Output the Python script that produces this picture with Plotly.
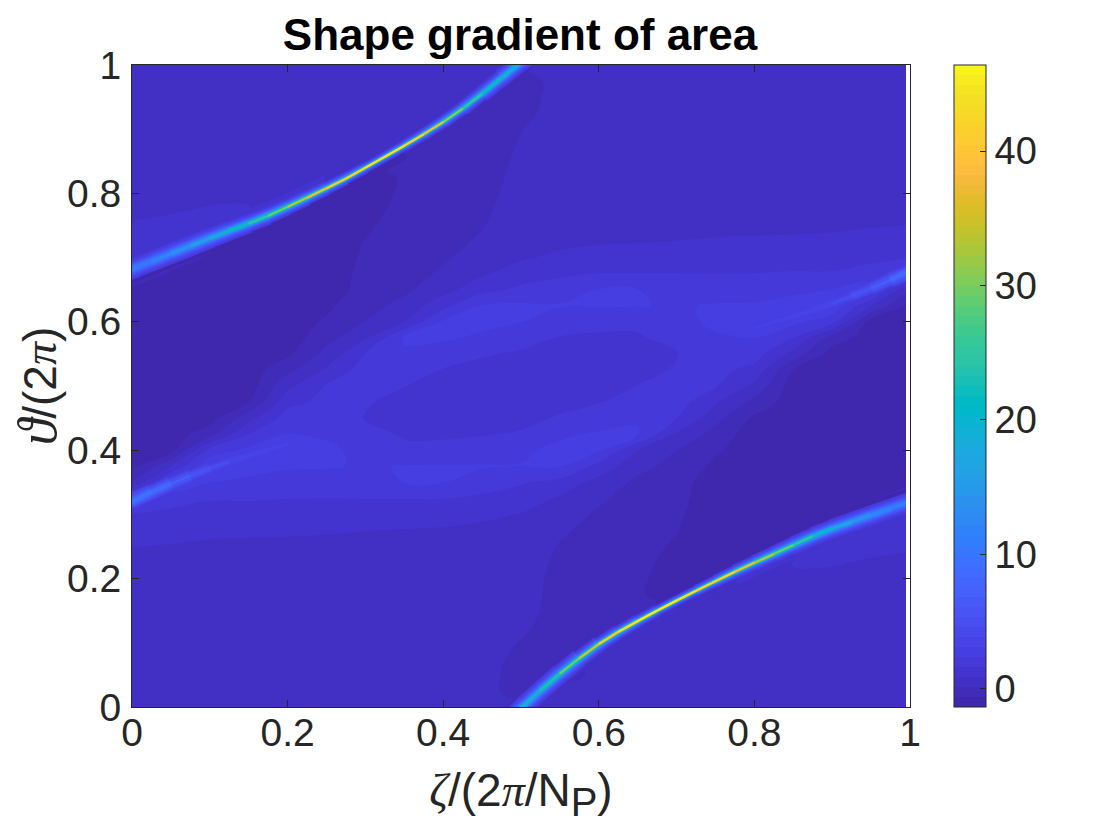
"""Shape gradient of area over one field period: filled contours plus the thin ridges."""
import numpy as np
import plotly.graph_objects as go
from plotly.colors import sample_colorscale

# --- Values ---
zeta = [0, .05, .1, .15, .2, .25, .3, .35, .4, .45, .5, .55, .6, .65, .7, .75, .8, .85, .9, .95, 1]
theta = [i / 40 for i in range(41)]

# background field, one list per zeta column, theta going up
z_0 = [.5,.5,.5,.5,.5,.5,.5,.5,.55,.7,.89,1.2,1.6,3.0,.1,-.9,-1,-1,-1,-1,-1,-1,-1,-1,-1,-1,-1,1.4,1.7,1.3,.95,.75,.6,.5,.5,.5,.5,.5,.5,.5,.5]
z_05 = [.5,.5,.5,.5,.5,.5,.5,.5,.5,.65,.85,1.1,1.4,2.0,2.8,.9,-.9,-1,-1,-1,-1,-1,-1,-1,-1,-1,-1,-1,.9,1.5,1.1,.8,.65,.5,.5,.5,.5,.5,.5,.5,.5]
z_10 = [.5,.5,.5,.5,.5,.5,.5,.5,.5,.6,.8,1.0,1.3,1.7,2.4,3.0,1.9,-.2,-.95,-1,-1,-1,-1,-1,-1,-1,-1,-1,-1,-.4,1.3,.95,.7,.55,.5,.5,.5,.5,.5,.5,.5]
z_15 = [.5,.5,.5,.5,.5,.5,.5,.5,.5,.6,.75,1.0,1.3,1.7,2.2,2.7,2.6,1.65,.6,-.6,-1,-1,-1,-1,-1,-1,-1,-1,-1,-1,.2,.95,.7,.55,.5,.5,.5,.5,.5,.5,.5]
z_20 = [.5,.5,.5,.5,.5,.5,.5,.5,.5,.55,.7,1.0,1.3,1.65,2.0,2.5,2.6,2.4,2.0,1.4,.7,-.1,-.75,-1,-1,-1,-1,-1,-1,-1,-1,-.2,.85,.6,.5,.5,.5,.5,.5,.5,.5]
z_25 = [.5,.5,.5,.5,.5,.5,.5,.5,.5,.55,.7,.95,1.3,1.63,2.0,2.45,2.5,2.3,2.0,1.85,1.7,1.0,.4,-.15,-.5,-.75,-1,-1,-1,-1,-1,-1,-.6,.5,.55,.5,.5,.5,.5,.5,.5]
z_30 = [.5,.5,.5,.5,.5,.5,.5,.5,.5,.5,.65,.9,1.3,1.65,2.0,2.3,2.2,1.9,1.6,1.7,1.9,2.0,1.65,.8,.15,-.1,-.3,-.4,-.5,-.58,-.7,-.85,-1,-1,.45,.5,.5,.5,.5,.5,.5]
z_35 = [.5,.5,.5,.5,.5,.5,.5,.5,.5,.5,.6,.85,1.3,1.65,2.4,2.42,1.8,1.55,1.4,1.45,1.65,1.9,2.3,2.45,.9,.35,0,-.15,-.25,-.3,-.35,-.4,-.45,-.5,-.6,.5,.5,.5,.5,.5,.5]
z_40 = [.5,.5,.5,.5,.5,.5,.5,.5,.5,.5,.55,.8,1.2,1.65,2.4,2.45,1.8,1.55,1.35,1.3,1.4,1.6,2.1,2.45,2.5,1.4,.6,.25,.05,-.1,-.2,-.25,-.3,-.35,-.4,-.45,-.5,.6,.5,.5,.5]
z_45 = [.5,.5,.5,.5,.5,.5,.5,.5,.5,.5,.5,.7,1.05,1.5,2.0,2.45,1.9,1.6,1.35,1.25,1.3,1.45,1.7,2.3,2.5,2.4,1.4,.8,.45,.25,.1,0,-.1,-.15,-.2,-.25,-.3,-.35,-.5,.6,.5]
z_50 = [.5,-.3,-.25,-.1,.1,.3,.45,.5,.5,.5,.5,.6,.85,1.3,1.7,2.4,2.3,1.7,1.45,1.35,1.3,1.35,1.55,1.9,2.4,2.5,1.8,1.25,.8,.65,.55,.5,.45,.35,.28,.2,.12,-.1,-.25,-.3,.5]
z_55 = [.5,.6,-.5,-.35,-.3,-.25,-.2,-.15,-.1,0,.1,.25,.45,.8,1.4,2.4,2.5,2.3,1.7,1.45,1.3,1.25,1.35,1.6,1.9,2.45,2.0,1.5,1.05,.7,.5,.5,.5,.5,.5,.5,.5,.5,.5,.5,.5]
z_60 = [.5,.5,.5,.6,-.5,-.45,-.4,-.35,-.3,-.25,-.2,-.1,.05,.25,.6,1.4,2.5,2.45,2.1,1.6,1.4,1.3,1.35,1.55,1.8,2.45,2.4,1.65,1.2,.8,.55,.5,.5,.5,.5,.5,.5,.5,.5,.5,.5]
z_65 = [.5,.5,.5,.5,.5,.5,-.6,-.5,-.45,-.4,-.35,-.3,-.25,-.15,0,.35,.9,2.45,2.3,1.9,1.65,1.45,1.4,1.55,1.8,2.42,2.4,1.65,1.3,.85,.6,.5,.5,.5,.5,.5,.5,.5,.5,.5,.5]
z_70 = [.5,.5,.5,.5,.5,.5,.45,-1,-1,-.85,-.7,-.58,-.5,-.4,-.3,-.1,.15,.8,1.65,2.0,1.9,1.7,1.6,1.9,2.2,2.3,2.0,1.65,1.3,.9,.65,.5,.5,.5,.5,.5,.5,.5,.5,.5,.5]
z_75 = [.5,.5,.5,.5,.5,.5,.55,.5,-.6,-1,-1,-1,-1,-1,-1,-.75,-.5,-.15,.4,1.0,1.7,1.85,2.0,2.3,2.5,2.45,2.0,1.63,1.3,.95,.7,.55,.5,.5,.5,.5,.5,.5,.5,.5,.5]
z_80 = [.5,.5,.5,.5,.5,.5,.5,.6,.85,-.2,-1,-1,-1,-1,-1,-1,-1,-1,-.75,-.1,.7,1.4,2.0,2.4,2.6,2.5,2.0,1.65,1.3,1.0,.7,.55,.5,.5,.5,.5,.5,.5,.5,.5,.5]
z_85 = [.5,.5,.5,.5,.5,.5,.5,.55,.7,.95,.2,-1,-1,-1,-1,-1,-1,-1,-1,-1,-1,-.6,.6,1.65,2.6,2.7,2.2,1.7,1.3,1.0,.75,.6,.5,.5,.5,.5,.5,.5,.5,.5,.5]
z_90 = [.5,.5,.5,.5,.5,.5,.5,.55,.7,.95,1.3,-.4,-1,-1,-1,-1,-1,-1,-1,-1,-1,-1,-.95,-.2,1.9,3.0,2.4,1.7,1.3,1.0,.8,.6,.5,.5,.5,.5,.5,.5,.5,.5,.5]
z_95 = [.5,.5,.5,.5,.5,.5,.5,.5,.65,.8,1.1,1.5,.9,-1,-1,-1,-1,-1,-1,-1,-1,-1,-1,-1,-.9,.9,2.8,2.0,1.4,1.1,.85,.65,.5,.5,.5,.5,.5,.5,.5,.5,.5]
z_100 = [.5,.5,.5,.5,.5,.5,.5,.5,.6,.75,.95,1.3,1.7,1.4,-1,-1,-1,-1,-1,-1,-1,-1,-1,-1,-1,-.9,.1,3.0,1.6,1.2,.89,.7,.55,.5,.5,.5,.5,.5,.5,.5,.5]

# upper ridge: centre line, peak value, half width (in theta), field just above and below it
upper_zeta = [-.025,0,.025,.05,.075,.1,.125,.15,.175,.2,.225,.25,.275,.3,.325,.35,.375,.4,.425,.45,.475,.5,.525]
upper_theta = [.670,.682,.694,.706,.718,.730,.742,.753,.765,.779,.793,.808,.823,.840,.857,.874,.892,.911,.932,.955,.980,1.004,1.03]
upper_peak = [10.5,11,12.5,14,16,18,21,25,29,33,37,40,43,45,44,42,36,30,26,22,20,18,15]
upper_width = [.0085,.0082,.0078,.0074,.0068,.0060,.0053,.0044,.0038,.0034,.0028,.0025,.0021,.0019,.0020,.0022,.0026,.0030,.0036,.0044,.0052,.0060,.0065]
upper_above = [1.4,1.4,1.4,1.4,1.3,1.3,1.2,1.2,1.1,1.1,.95,.5,.5,.5,.5,.5,.5,.5,.5,.5,.5,.5,.5]
upper_below = [-1,-1,-1,-1,-1,-1,-1,-1,-1,-1,-1,-1,-1,-1,-1,-.3,-.3,-.3,-.3,-.3,-.3,-.3,-.3]

# lower ridge, same columns
lower_zeta = [.475,.5,.525,.55,.575,.6,.625,.65,.675,.7,.725,.75,.775,.8,.825,.85,.875,.9,.925,.95,.975,1,1.025]
lower_theta = [-.03,-.002,.026,.052,.076,.098,.117,.134,.150,.166,.181,.196,.211,.225,.238,.252,.266,.278,.288,.299,.309,.32,.33]
lower_peak = [15,18,22,28,33,40,44,46,46,45,43,42,38,33,29,24,20,17,14.5,13,11.5,10.5,10]
lower_width = [.0065,.0060,.0055,.0044,.0034,.0028,.0025,.0021,.0019,.0019,.0021,.0025,.0028,.0034,.0038,.0046,.0053,.0060,.0068,.0074,.0078,.0082,.0085]
lower_above = [-.3,-.3,-.3,-.3,-.3,-.3,-.3,-.3,-1,-1,-1,-1,-1,-1,-1,-1,-1,-1,-1,-1,-1,-1,-1]
lower_below = [.5,.5,.5,.5,.5,.5,.5,.5,.5,.5,.5,.5,.95,1.1,1.1,1.2,1.2,1.3,1.3,1.4,1.4,1.4,1.4]

# faint continuations of the ridges past the period boundary
left_zeta = [-.025,0,.025,.05,.075,.1,.125,.15,.175,.2]
left_theta = [.31,.32,.335,.348,.36,.372,.382,.392,.4,.41]
left_peak = [11,10.5,8,6.5,5.2,4.5,4.1,3.8,3.6,3.5]
left_width = [.0085,.0085,.0095,.010,.010,.010,.011,.011,.011,.011]

right_zeta = [.8,.825,.85,.875,.9,.925,.95,.975,1,1.025]
right_theta = [.59,.6,.608,.618,.628,.64,.652,.665,.68,.69]
right_peak = [3.5,3.6,3.8,4.1,4.5,5.2,6.5,8,10.5,11]
right_width = [.011,.011,.011,.011,.010,.010,.010,.0095,.0085,.0085]

ridge_levels = [1.5,2.5,3.5,4.5,5.5,7,8.5,10,12,14,16,18,20,22,24,26,28,30,32,34,36,38,40,42,44,45.5]

x_ticks = [0, .2, .4, .6, .8, 1]
x_ticktext = ["0", "0.2", "0.4", "0.6", "0.8", "1"]
cbar_ticks = [0, 10, 20, 30, 40]

# --- Style ---
Z_MIN, Z_MAX = -1.35, 46.4
N_BANDS = 64
DARK = "#262626"
FONT = "Liberation Sans"
PLOT_H = 642
SERIF = "<span style=\"font-family:'Liberation Serif'\">"
SERIF_BIG = "<span style=\"font-family:'Liberation Serif';font-size:54px\">"

PARULA = [
    (.2422,.1504,.6603),(.2504,.1650,.7076),(.2578,.1818,.7511),(.2647,.1978,.7952),(.2706,.2147,.8364),
    (.2751,.2342,.8710),(.2783,.2559,.8991),(.2803,.2782,.9221),(.2813,.3006,.9414),(.2810,.3228,.9579),
    (.2795,.3447,.9717),(.2760,.3667,.9829),(.2699,.3892,.9906),(.2602,.4123,.9952),(.2440,.4358,.9988),
    (.2206,.4603,.9973),(.1963,.4847,.9892),(.1834,.5074,.9798),(.1786,.5289,.9682),(.1764,.5499,.9520),
    (.1687,.5703,.9359),(.1540,.5902,.9218),(.1460,.6091,.9079),(.1380,.6276,.8973),(.1248,.6459,.8883),
    (.1113,.6635,.8763),(.0952,.6798,.8598),(.0689,.6948,.8394),(.0297,.7082,.8163),(.0036,.7203,.7917),
    (.0067,.7312,.7660),(.0433,.7411,.7394),(.0964,.7500,.7120),(.1408,.7584,.6842),(.1717,.7670,.6554),
    (.1938,.7758,.6251),(.2161,.7843,.5923),(.2470,.7918,.5567),(.2906,.7973,.5188),(.3406,.8008,.4789),
    (.3909,.8029,.4354),(.4456,.8024,.3909),(.5044,.7993,.3480),(.5616,.7942,.3045),(.6174,.7876,.2612),
    (.6720,.7793,.2227),(.7242,.7698,.1910),(.7738,.7598,.1646),(.8203,.7498,.1535),(.8634,.7406,.1596),
    (.9035,.7330,.1774),(.9393,.7288,.2100),(.9728,.7298,.2394),(.9956,.7434,.2371),(.9970,.7659,.2199),
    (.9952,.7861,.1967),(.9892,.8066,.1795),(.9786,.8247,.1688),(.9676,.8442,.1559),(.9610,.8639,.1453),
    (.9597,.8837,.1353),(.9628,.9052,.1250),(.9691,.9292,.1160),(.9769,.9839,.0805),
]
colorscale = [
    [i / (len(PARULA) - 1), f"rgb({r*255:.0f},{g*255:.0f},{b*255:.0f})"]
    for i, (r, g, b) in enumerate(PARULA)
]


def value_color(v):
    return sample_colorscale(colorscale, (v - Z_MIN) / (Z_MAX - Z_MIN))[0]


def band_color(v):
    # same colour as the contour band that holds v
    size = (Z_MAX - Z_MIN) / N_BANDS
    k = np.floor((v - Z_MIN) / size)
    return value_color(Z_MIN + (k + .5) * size)


# --- Background ---
columns = [z_0, z_05, z_10, z_15, z_20, z_25, z_30, z_35, z_40, z_45, z_50,
           z_55, z_60, z_65, z_70, z_75, z_80, z_85, z_90, z_95, z_100]
z = np.array(columns).T

fig = go.Figure()
fig.add_trace(go.Contour(
    x=zeta, y=theta, z=z,
    colorscale=colorscale, zmin=Z_MIN, zmax=Z_MAX,
    autocontour=False,
    contours=dict(start=Z_MIN, end=Z_MAX, size=(Z_MAX - Z_MIN) / N_BANDS, coloring="fill", showlines=False),
    line=dict(width=0, smoothing=1.3),
    colorbar=dict(
        x=(953 - 131) / 778, xanchor="left", xpad=0, y=0.5, yanchor="middle", ypad=0,
        len=1, lenmode="fraction", thickness=32, thicknessmode="pixels",
        outlinecolor=DARK, outlinewidth=1,
        tickmode="array", tickvals=cbar_ticks, ticks="inside", ticklen=6, tickcolor=DARK, tickwidth=1,
        tickfont=dict(family=FONT, size=38, color=DARK),
    ),
    hoverinfo="skip",
))

# Keep the band edges tight against the ridge: a flat stroke on each side of it
SIDE_GAP = 7 / PLOT_H
for rz, rt, above, below in [(upper_zeta, upper_theta, upper_above, upper_below),
                             (lower_zeta, lower_theta, lower_above, lower_below)]:
    for side, sign in ((above, 1), (below, -1)):
        for i in range(len(rz) - 1):
            end = min(i + 2, len(rz) - 1)
            fig.add_trace(go.Scatter(
                x=rz[i:end + 1], y=[t + sign * SIDE_GAP for t in rt[i:end + 1]],
                mode="lines", line=dict(color=band_color(side[i]), width=13),
                showlegend=False, hoverinfo="skip",
            ))


# --- Ridges: nested strokes, one per colour level, narrower as the level rises ---
def ridge_strokes(rz, rt, rp, rw, first_level):
    strokes = {}
    for i in range(len(rz) - 1):
        end = min(i + 2, len(rz) - 1)
        peak = (rp[i] + rp[i + 1]) / 2
        half = (rw[i] + rw[i + 1]) / 2 * PLOT_H
        for level in ridge_levels:
            if level < first_level:
                continue
            if level >= peak:
                break
            w = max(2 * half * np.sqrt(peak / level - 1), 1.4)
            key = (level, round(w * 10) / 10)
            xs, ys = strokes.setdefault(key, ([], []))
            xs += rz[i:end + 1] + [None]
            ys += rt[i:end + 1] + [None]
    return strokes


all_strokes = {}
for ridge in [(left_zeta, left_theta, left_peak, left_width, 3.5),
              (right_zeta, right_theta, right_peak, right_width, 3.5),
              (upper_zeta, upper_theta, upper_peak, upper_width, 2.5),
              (lower_zeta, lower_theta, lower_peak, lower_width, 2.5)]:
    for key, (xs, ys) in ridge_strokes(*ridge).items():
        a, b = all_strokes.setdefault(key, ([], []))
        a += xs
        b += ys

for (level, width) in sorted(all_strokes, key=lambda k: (k[0], -k[1])):
    xs, ys = all_strokes[(level, width)]
    fig.add_trace(go.Scatter(
        x=xs, y=ys, mode="lines", line=dict(color=value_color(level), width=width),
        showlegend=False, hoverinfo="skip",
    ))

# Frame with ticks sits on its own subplot, the field stops a little short of its right side
fig.add_trace(go.Scatter(x=[0], y=[0], xaxis="x2", yaxis="y2", mode="none",
                         showlegend=False, hoverinfo="skip"))

axis_style = dict(
    range=[0, 1], showgrid=False, zeroline=False, showline=True, linecolor=DARK, linewidth=1,
    mirror="ticks", ticks="inside", ticklen=7, tickcolor=DARK, tickwidth=1,
    tickmode="array", tickvals=x_ticks, ticktext=x_ticktext,
    tickfont=dict(family=FONT, size=39, color=DARK),
)

fig.update_layout(
    width=1104, height=824,
    margin=dict(l=124, r=202, t=57, b=125),
    plot_bgcolor="rgba(0,0,0,0)", paper_bgcolor="white",
    showlegend=False,
    title=dict(
        text="<b>Shape gradient of area</b>", x=512 / 1104, xanchor="center",
        y=1 - 27 / 824, yanchor="middle",
        font=dict(family=FONT, size=44, color="black"),
    ),
    xaxis=dict(domain=[0, .995], range=[0, .995], visible=False),
    yaxis=dict(domain=[0, 1], range=[0, 1], visible=False),
    xaxis2=dict(
        axis_style, domain=[0, 1], anchor="y2", ticklabelstandoff=-9,
        title=dict(
            text=SERIF + "<i>ζ</i></span>/(2" + SERIF + "<i>π</i></span>/N<sub><span style=\"font-size:40px\">P</span></sub>)",
            font=dict(family=FONT, size=46, color=DARK), standoff=21,
        ),
    ),
    yaxis2=dict(
        axis_style, domain=[0, 1], anchor="x2", ticklabelstandoff=2,
        title=dict(
            text=SERIF_BIG + "<i>ϑ</i></span>/(2" + SERIF + "<i>π</i></span>)",
            font=dict(family=FONT, size=46, color=DARK), standoff=6,
        ),
    ),
)

fig.write_html("out.html")
